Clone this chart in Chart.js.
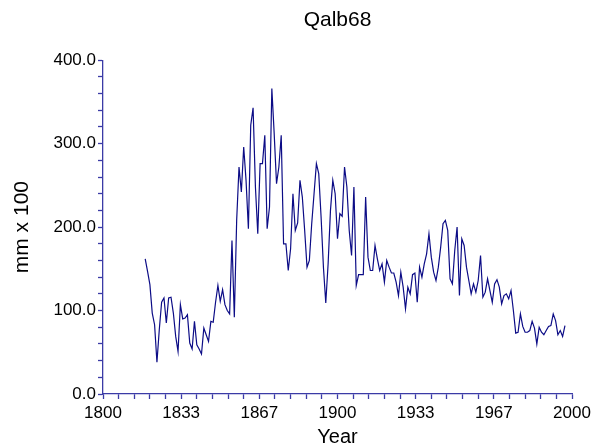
<!DOCTYPE html>
<html>
<head>
<meta charset="utf-8">
<title>Qalb68</title>
<script src="https://cdn.jsdelivr.net/npm/chart.js@4/dist/chart.umd.min.js"></script>
<style>
    html, body { margin: 0; padding: 0; background: #ffffff; }
    #wrap { width: 595px; height: 448px; }
</style>
</head>
<body>
<div id="wrap"><canvas id="qalbChart" width="595" height="448"></canvas></div>
<script>
// Annual values (mm x 100), starting in 1818
const firstYear = 1818;
const rainfall = [
    162, 147, 131, 97, 83, 38, 77, 110, 115, 85,
    115, 116, 97, 69, 51, 107, 90, 91, 95, 61,
    54, 87, 59, 54, 48, 79, 71, 63, 87, 86,
    110, 130, 111, 125, 107, 100, 96, 184, 92, 208,
    272, 242, 296, 256, 198, 322, 343, 248, 192, 276,
    276, 310, 198, 224, 366, 312, 252, 272, 310, 180,
    180, 148, 174, 240, 196, 205, 256, 236, 196, 152,
    160, 204, 240, 276, 264, 212, 152, 109, 156, 220,
    256, 240, 186, 216, 213, 272, 248, 196, 166, 248,
    130, 143, 143, 143, 236, 164, 148, 148, 178, 162,
    148, 156, 134, 160, 152, 145, 145, 134, 118, 146,
    128, 102, 128, 120, 143, 145, 110, 152, 140, 156,
    168, 192, 164, 146, 136, 152, 176, 204, 208, 196,
    138, 132, 172, 200, 118, 186, 178, 152, 136, 120,
    132, 122, 136, 166, 116, 122, 138, 124, 110, 132,
    137, 128, 108, 118, 120, 114, 124, 100, 73, 74,
    96, 81, 74, 74, 76, 87, 79, 60, 80, 74,
    71, 76, 81, 82, 96, 88, 71, 76, 69, 82
];

// Axis labels
const xTickLabels = ['1800', '1833', '1867', '1900', '1933', '1967', '2000'];
const yTickLabels = ['0.0', '100.0', '200.0', '300.0', '400.0'];

const axisColor = '#3b3ba6';
const lineColor = '#0c0c86';
const fontFamily = '"Liberation Sans", Arial, sans-serif';

function initializeQalbChart() {
    const points = rainfall.map(function (v, i) {
        return { x: firstYear + i, y: v };
    });

    const ctx = document.getElementById('qalbChart').getContext('2d');
    new Chart(ctx, {
        type: 'line',
        data: {
            datasets: [{
                label: 'Qalb68',
                data: points,
                borderColor: lineColor,
                borderWidth: 1.2,
                pointRadius: 0,
                tension: 0,
                fill: false
            }]
        },
        options: {
            responsive: false,
            animation: false,
            layout: { padding: { left: 0, right: 23, top: 0, bottom: 0 } },
            plugins: {
                legend: { display: false },
                tooltip: { enabled: false },
                title: {
                    display: true,
                    text: 'Qalb68',
                    fullSize: false, // center over the plot area
                    color: '#000000',
                    font: { family: fontFamily, size: 21, weight: 'normal' },
                    padding: { top: 8, bottom: 27 }
                }
            },
            scales: {
                x: {
                    type: 'linear',
                    min: 1800,
                    max: 2000,
                    afterBuildTicks: function (axis) {
                        // 5 minor steps per labelled interval
                        const ticks = [];
                        for (let k = 0; k <= (xTickLabels.length - 1) * 5; k++) {
                            ticks.push({ value: 1800 + k * 200 / ((xTickLabels.length - 1) * 5) });
                        }
                        axis.ticks = ticks;
                    },
                    afterFit: function (axis) { axis.height = 54; },
                    grid: {
                        drawOnChartArea: false,
                        drawTicks: true,
                        tickLength: 5,
                        tickColor: axisColor,
                        tickWidth: 1.3
                    },
                    border: { color: axisColor, width: 1.3 },
                    ticks: {
                        autoSkip: false,
                        maxRotation: 0,
                        minRotation: 0,
                        padding: 4,
                        color: '#000000',
                        font: { family: fontFamily, size: 17 },
                        callback: function (value, index) {
                            return index % 5 === 0 ? xTickLabels[index / 5] : '';
                        }
                    },
                    title: {
                        display: true,
                        text: 'Year',
                        color: '#000000',
                        font: { family: fontFamily, size: 20, lineHeight: 1.1 },
                        padding: { top: 0, bottom: 0 }
                    }
                },
                y: {
                    type: 'linear',
                    min: 0,
                    max: 400,
                    afterBuildTicks: function (axis) {
                        const ticks = [];
                        for (let k = 0; k <= (yTickLabels.length - 1) * 5; k++) {
                            ticks.push({ value: k * 20 });
                        }
                        axis.ticks = ticks;
                    },
                    afterFit: function (axis) { axis.width = 103; },
                    grid: {
                        drawOnChartArea: false,
                        drawTicks: true,
                        tickLength: 5,
                        tickColor: axisColor,
                        tickWidth: 1.3
                    },
                    border: { color: axisColor, width: 1.3 },
                    ticks: {
                        autoSkip: false,
                        padding: 2,
                        color: '#000000',
                        font: { family: fontFamily, size: 17 },
                        callback: function (value, index) {
                            return index % 5 === 0 ? yTickLabels[index / 5] : '';
                        }
                    },
                    title: {
                        display: true,
                        text: 'mm x 100',
                        color: '#000000',
                        font: { family: fontFamily, size: 21, lineHeight: 1.2 },
                        padding: { top: 10, bottom: 0 }
                    }
                }
            }
        }
    });
}

document.addEventListener('DOMContentLoaded', function () {
    initializeQalbChart();
});
</script>
</body>
</html>
